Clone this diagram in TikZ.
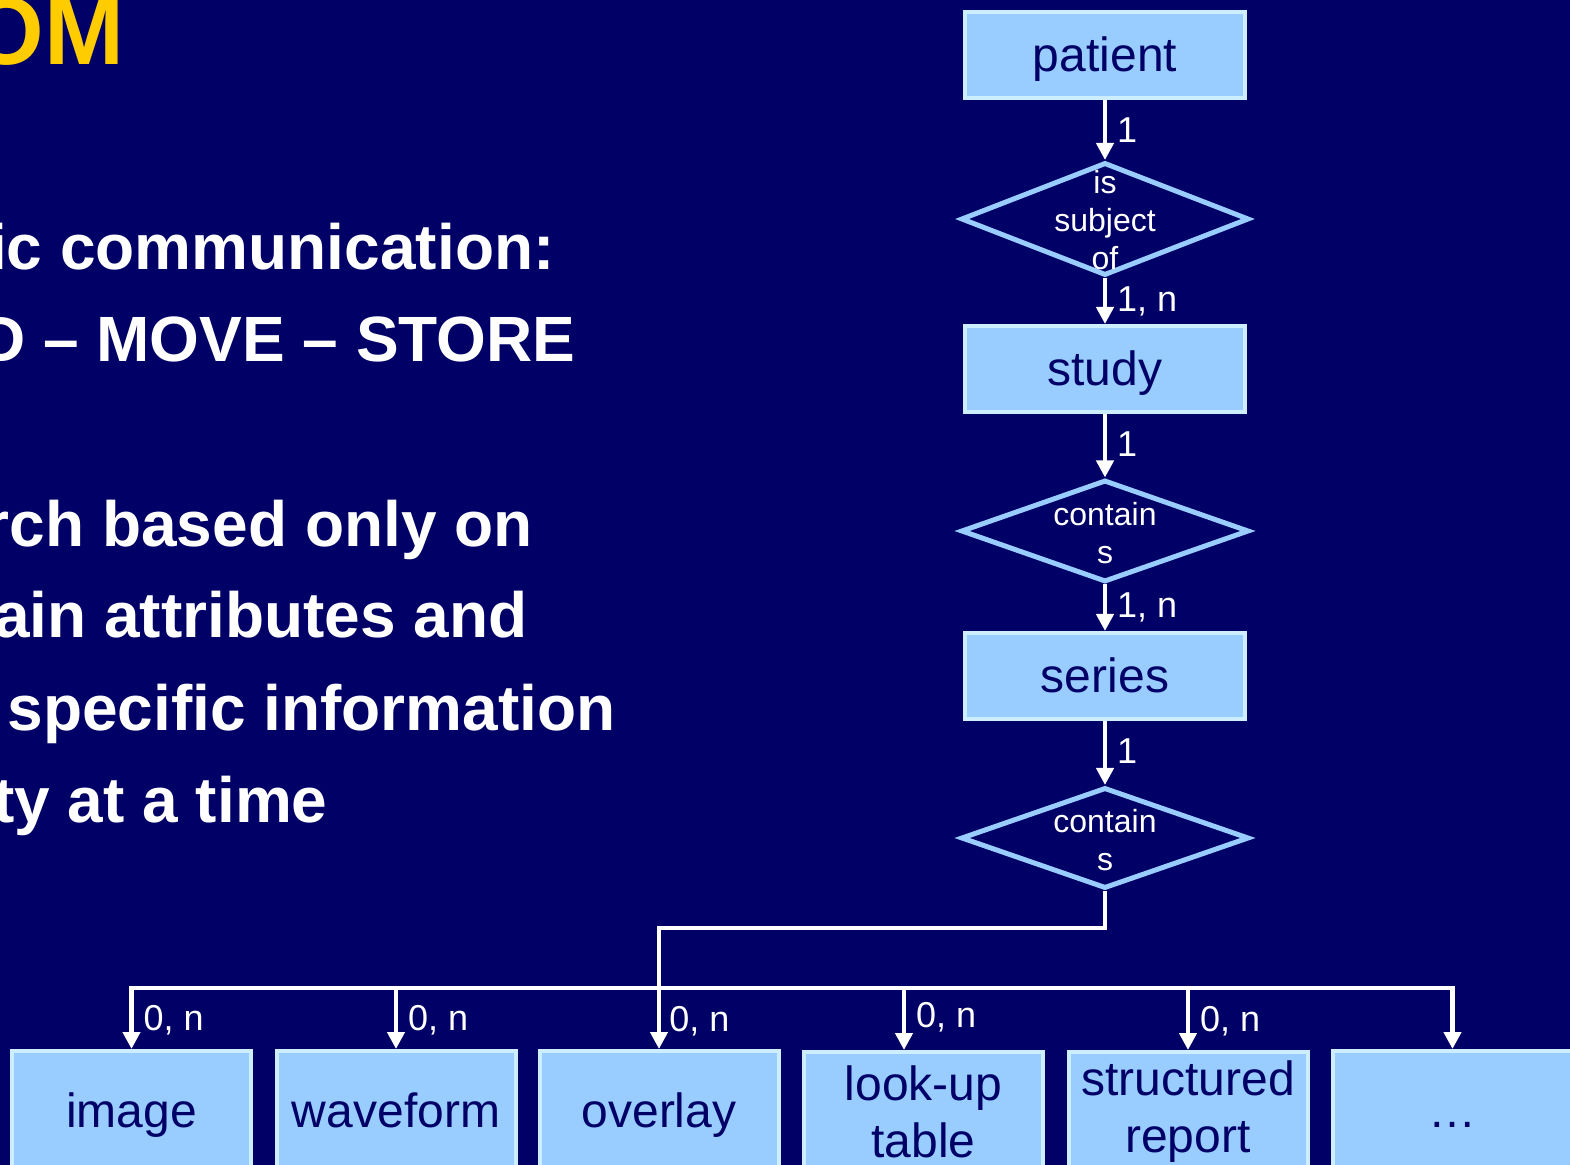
\documentclass[tikz,border=0pt]{standalone}
\usepackage{fontspec}
\setmainfont{Liberation Sans}
\usetikzlibrary{shapes.geometric,arrows.meta,calc}
\definecolor{bg}{HTML}{000066}
\definecolor{boxfill}{HTML}{99CCFF}
\definecolor{boxline}{HTML}{CCEEFF}
\definecolor{dline}{HTML}{99CCFF}
\definecolor{navytext}{HTML}{000066}
\definecolor{titley}{HTML}{FFCC00}
\begin{document}
\begin{tikzpicture}[x=0.5pt,y=-0.5pt,
  ent/.style={rectangle, draw=boxline, fill=boxfill, line width=2pt, text=navytext,
    font=\fontsize{24}{28.5}\selectfont, minimum width=140pt, minimum height=43pt,
    inner sep=0pt, align=center},
  oneline/.style={text height=20.4pt, text depth=3.6pt},
  small/.style={minimum width=119.5pt, minimum height=60pt},
  rel/.style={diamond, draw=dline, line width=2.5pt, minimum width=144pt, inner sep=0pt},
  reltext/.style={text=white, font=\fontsize{16}{19}\selectfont, align=center, inner sep=0pt},
  arr/.style={draw=white, line width=2.2pt, -{Triangle[length=8.5pt,width=8.5pt]}},
  wline/.style={draw=white, line width=2.2pt, line cap=rect},
  card/.style={anchor=west, text=white, font=\fontsize{18}{20}\selectfont, inner sep=0pt, xshift=5pt},
  body/.style={anchor=base east, text=white, font=\bfseries\fontsize{32}{36}\selectfont, inner sep=0pt}]
\useasboundingbox (0,0) rectangle (1570,1165);
\fill[bg] (0,0) rectangle (1570,1165);
\clip (0,0) rectangle (1570,1165);

% left text
\node[anchor=base east, text=titley, font=\bfseries\fontsize{48}{52}\selectfont, inner sep=0pt] (title) at (125,65) {OM};
\node[body] (b1) at (555,270) {ic communication:};
\node[body] (b2) at (576,362) {D – MOVE – STORE};
\node[body] (b3) at (533,547) {rch based only on};
\node[body] (b4) at (528,638) {ain attributes and};
\node[body] (b5) at (616,731) {specific information};
\node[body] (b6) at (328,823) {ty at a time};

% chain
\node[ent, oneline] (patient) at (1105,55) {patient};
\node[rel, minimum height=56.5pt] (d1) at (1105,219) {};
\node[reltext] (t1) at (1105,220) {is\\subject\\of};
\node[ent, oneline] (study) at (1105,369) {study};
\node[rel, minimum height=51pt] (d2) at (1105,531) {};
\node[reltext] (t2) at (1105,533) {contain\\s};
\node[ent, oneline] (series) at (1105,676) {series};
\node[rel, minimum height=50.5pt] (d3) at (1105,838) {};
\node[reltext] (t3) at (1105,840) {contain\\s};

\draw[arr] (patient) -- (d1) node[card, midway] (c1) {1};
\draw[arr] (d1) -- (study) node[card, midway] (c2) {1, n};
\draw[arr] (study) -- (d2) node[card, midway, yshift=1pt] (c3) {1};
\draw[arr] (d2) -- (series) node[card, midway] (c4) {1, n};
\draw[arr] (series) -- (d3) node[card, midway, yshift=1pt] (c5) {1};

% bottom boxes
\node[ent, small, oneline] (image) at (131.5,1111) {image};
\node[ent, small, oneline] (waveform) at (396,1111) {waveform};
\node[ent, small, oneline] (overlay) at (659,1111) {overlay};
\node[ent, small] (lookup) at (923.5,1112) {look-up\\table};
\node[ent, small] (sr) at (1188,1112) {structured\\report};
\node[ent, small, oneline] (more) at (1452.5,1111) {…};

\coordinate (bus) at (659,988);
\coordinate (lkin) at ($(lookup.north)+(-19.5,0)$);
\draw[wline] (bus -| image.north) -- (bus -| more.north);
\draw[arr] (d3.south) -- ++(0,37) -| (overlay.north);
\node[card] (c8) at (659,1021) {0, n};
\draw[arr] (bus -| image.north) -- (image.north) node[card, midway, yshift=-1pt] (c6) {0, n};
\draw[arr] (bus -| waveform.north) -- (waveform.north) node[card, midway, yshift=-1pt] (c7) {0, n};
\draw[arr] (lkin |- bus) -- (lkin) node[card, midway, yshift=1pt] (c9) {0, n};
\draw[arr] (bus -| sr.north) -- (sr.north) node[card, midway, yshift=-1pt] (c10) {0, n};
\draw[arr] (bus -| more.north) -- (more.north);
\end{tikzpicture}
\end{document}
